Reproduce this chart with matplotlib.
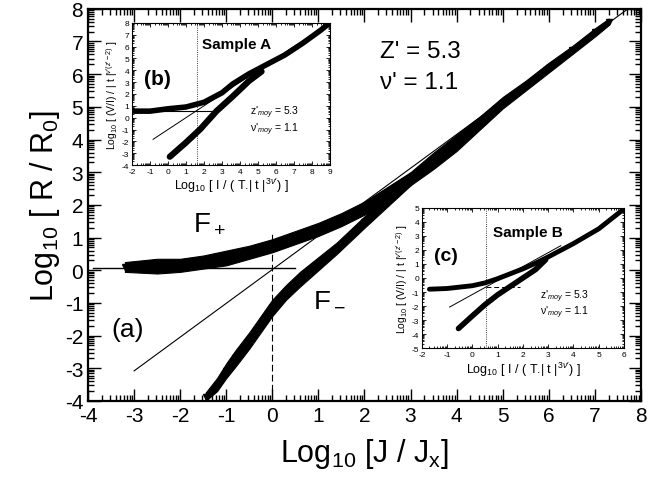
import numpy as np
import matplotlib
matplotlib.use("Agg")
import matplotlib.pyplot as plt

plt.rcParams['font.family'] = ['Liberation Sans', 'DejaVu Sans']
plt.rcParams['mathtext.fontset'] = 'custom'
plt.rcParams['mathtext.rm'] = 'Liberation Sans'
plt.rcParams['mathtext.it'] = 'Liberation Sans:italic'
plt.rcParams['mathtext.bf'] = 'Liberation Sans:bold'
plt.rcParams['axes.unicode_minus'] = False

# ---------------- main panel (a) data ----------------
fplus_x  = [-3.2, -2.5, -2.0, -1.5, -1.0, -0.5, 0.0, 0.5, 1.0, 1.5, 2.0, 2.5, 3.0]
fplus_lo = [-0.05, -0.1, -0.05, 0.05, 0.15, 0.35, 0.55, 0.8, 1.05, 1.35, 1.7, 2.15, 2.65]
fplus_hi = [0.25, 0.35, 0.35, 0.45, 0.6, 0.75, 0.95, 1.2, 1.45, 1.75, 2.1, 2.55, 3.0]

fminus_x  = [-1.45, -1.2, -1.0, -0.8, -0.5, -0.2, 0.0, 0.3, 0.6, 1.0, 1.4, 2.0, 2.5, 3.0]
fminus_lo = [-4.0, -3.7, -3.3, -2.95, -2.4, -1.8, -1.4, -0.9, -0.5, 0.0, 0.5, 1.3, 1.95, 2.6]
fminus_hi = [-3.75, -3.3, -2.85, -2.45, -1.9, -1.3, -0.9, -0.45, -0.05, 0.4, 0.85, 1.65, 2.3, 2.95]

merged_x  = [3.0, 3.5, 4.0, 4.5, 5.0, 5.5, 6.0, 6.5, 7.0, 7.3]
merged_lo = [2.6, 3.1, 3.65, 4.3, 4.95, 5.5, 6.05, 6.6, 7.15, 7.5]
merged_hi = [3.0, 3.6, 4.15, 4.7, 5.3, 5.8, 6.35, 6.85, 7.4, 7.7]

fit_x = [-3.0, 7.72]
fit_y = [-3.08, 8.0]
plateau_x = [-3.9, 0.5]
plateau_y = [0.07, 0.07]
cross_x = [0.0, 0.0]
cross_y = [-4.0, 1.2]

# ---------------- inset (b) data ----------------
b_up_x = [-1.9, -1.0, 0.0, 1.0, 2.0, 3.0, 3.6, 4.5, 5.5, 6.5, 7.5, 8.5, 8.9]
b_up_y = [0.55, 0.55, 0.75, 0.9, 1.3, 2.1, 2.85, 3.7, 4.5, 5.3, 6.3, 7.4, 7.9]
b_lo_x = [0.1, 1.0, 1.8, 2.7, 3.6, 4.5, 5.2]
b_lo_y = [-3.3, -2.1, -0.96, 0.56, 1.8, 3.1, 3.9]
b_fit_x = [-0.83, 9.0]
b_fit_y = [-1.83, 8.0]
b_hline_x = [-2.0, 2.44]
b_hline_y = [0.6, 0.6]
b_vline = 1.6

# ---------------- inset (c) data ----------------
c_up_x = [-1.7, -1.0, 0.0, 0.5, 1.0, 1.5, 2.0, 2.5, 3.0, 4.0, 5.0, 5.95]
c_up_y = [-0.8, -0.75, -0.55, -0.35, -0.05, 0.3, 0.65, 1.05, 1.5, 2.45, 3.5, 4.85]
c_lo_x = [-0.55, 0.0, 0.5, 1.0, 1.5, 2.0, 2.5, 2.9]
c_lo_y = [-3.6, -2.7, -1.9, -1.2, -0.6, 0.0, 0.6, 1.3]
c_fit_x = [-0.9, 3.5]
c_fit_y = [-2.07, 2.3]
c_hline_x = [0.55, 1.9]
c_hline_y = [-0.64, -0.64]
c_vline = 0.55


def log_minor(lo, hi):
    out = []
    for k in range(int(np.floor(lo)), int(np.ceil(hi))):
        for m in range(2, 10):
            v = k + np.log10(m)
            if lo <= v <= hi:
                out.append(v)
    return out


fig = plt.figure(figsize=(6.52, 4.89), dpi=100)
ax = fig.add_axes([0.135, 0.178, 0.848, 0.802])

ax.fill_between(fplus_x, fplus_lo, fplus_hi, color='black', lw=0.8)
ax.fill_between(fminus_x, fminus_lo, fminus_hi, color='black', lw=0.8)
ax.fill_between(merged_x, merged_lo, merged_hi, color='black', lw=0.8)
ax.plot(fplus_x, [(a + b) / 2 for a, b in zip(fplus_lo, fplus_hi)], 'v', color='black', ms=4)
ax.plot(fminus_x, [(a + b) / 2 for a, b in zip(fminus_lo, fminus_hi)], 'v', color='black', ms=4)
ax.plot(merged_x, [(a + b) / 2 for a, b in zip(merged_lo, merged_hi)], 'v', color='black', ms=4)
ax.plot(fit_x, fit_y, color='black', lw=0.8)
ax.plot(plateau_x, plateau_y, color='black', lw=1.0)
ax.plot(cross_x, cross_y, color='black', lw=0.8, ls=(0, (6, 3)))

ax.set_xlim(-4, 8)
ax.set_ylim(-4, 8)
ax.set_xticks(range(-4, 9))
ax.set_yticks(range(-4, 9))
ax.set_xticks(log_minor(-4, 8), minor=True)
ax.set_yticks(log_minor(-4, 8), minor=True)
ax.tick_params(which='both', direction='in', top=True, right=True, labelsize=15, width=1.0)
ax.tick_params(which='major', length=9)
ax.tick_params(which='minor', length=4)
for s in ax.spines.values():
    s.set_linewidth(1.6)
ax.set_xlabel(r'Log$_{10}$ [J / J$_\mathregular{x}$]', fontsize=22, labelpad=8)
ax.set_ylabel(r'Log$_{10}$ [ R / R$_\mathregular{0}$]', fontsize=22, labelpad=2)

ax.text(-1.37, 1.45, r'F$_+$', fontsize=20, ha='center', va='center')
ax.text(1.24, -0.86, r'F$_-$', fontsize=20, ha='center', va='center')
ax.text(-3.15, -1.8, '(a)', fontsize=19, ha='center', va='center')
ax.text(2.33, 6.7, "Z' = 5.3", fontsize=17.5, ha='left', va='center')
ax.text(2.33, 5.76, "\u03bd' = 1.1", fontsize=17.5, ha='left', va='center')

ylab_in = r'Log$_{10}$ [ (V/I) / | t |$^{\nu\prime(z\prime-2)}$ ]'
xlab_in = r'Log$_{10}$ [ I / ( T.| t |$^{3\nu\prime}$) ]'

# ---------------- inset (b) ----------------
axb = fig.add_axes([0.2025, 0.6605, 0.3035, 0.2905])
axb.plot(b_up_x, b_up_y, color='black', lw=4, solid_capstyle='round')
axb.plot(b_lo_x, b_lo_y, color='black', lw=4.5, solid_capstyle='round')
axb.plot(b_fit_x, b_fit_y, color='black', lw=0.7)
axb.plot(b_hline_x, b_hline_y, color='black', lw=0.8)
axb.axvline(b_vline, color='black', lw=0.6, ls=':')
axb.set_xlim(-2, 9)
axb.set_ylim(-4, 8)
axb.set_xticks(range(-2, 10))
axb.set_yticks(range(-4, 9))
axb.set_xticks(log_minor(-2, 9), minor=True)
axb.set_yticks(log_minor(-4, 8), minor=True)
axb.tick_params(which='both', direction='in', top=True, right=True, labelsize=6, width=0.6, pad=2)
axb.tick_params(which='major', length=3)
axb.tick_params(which='minor', length=1.5)
for s in axb.spines.values():
    s.set_linewidth(0.8)
axb.set_xlabel(xlab_in, fontsize=9, labelpad=1)
axb.set_ylabel(ylab_in, fontsize=7.5, labelpad=1)
axb.text(1.9, 6.2, 'Sample A', fontsize=11, fontweight='bold', ha='left', va='center')
axb.text(-0.6, 3.3, '(b)', fontsize=15, fontweight='bold', ha='center', va='center')
axb.text(4.55, 0.48, r"z'$_{moy}$ = 5.3", fontsize=7.5, ha='left', va='center')
axb.text(4.55, -0.9, "\u03bd'$_{moy}$ = 1.1", fontsize=7.5, ha='left', va='center')

# ---------------- inset (c) ----------------
axc = fig.add_axes([0.647, 0.286, 0.310, 0.287])
axc.plot(c_up_x, c_up_y, color='black', lw=3.5, solid_capstyle='round')
axc.plot(c_lo_x, c_lo_y, color='black', lw=4, solid_capstyle='round')
axc.plot(c_fit_x, c_fit_y, color='black', lw=0.7)
axc.plot(c_hline_x, c_hline_y, color='black', lw=0.7, ls=(0, (5, 3)))
axc.axvline(c_vline, color='black', lw=0.6, ls=':')
axc.set_xlim(-2, 6)
axc.set_ylim(-5, 5)
axc.set_xticks(range(-2, 7))
axc.set_yticks(range(-5, 6))
axc.set_xticks(log_minor(-2, 6), minor=True)
axc.set_yticks(log_minor(-5, 5), minor=True)
axc.tick_params(which='both', direction='in', top=True, right=True, labelsize=6, width=0.6, pad=2)
axc.tick_params(which='major', length=3)
axc.tick_params(which='minor', length=1.5)
for s in axc.spines.values():
    s.set_linewidth(0.8)
axc.set_xlabel(xlab_in, fontsize=9, labelpad=1)
axc.set_ylabel(ylab_in, fontsize=7.5, labelpad=1)
axc.text(0.81, 3.3, 'Sample B', fontsize=11, fontweight='bold', ha='left', va='center')
axc.text(-1.05, 1.57, '(c)', fontsize=14, fontweight='bold', ha='center', va='center')
axc.text(2.67, -1.3, r"z'$_{moy}$ = 5.3", fontsize=7.5, ha='left', va='center')
axc.text(2.67, -2.4, "\u03bd'$_{moy}$ = 1.1", fontsize=7.5, ha='left', va='center')

fig.savefig('out.png', dpi=100)
